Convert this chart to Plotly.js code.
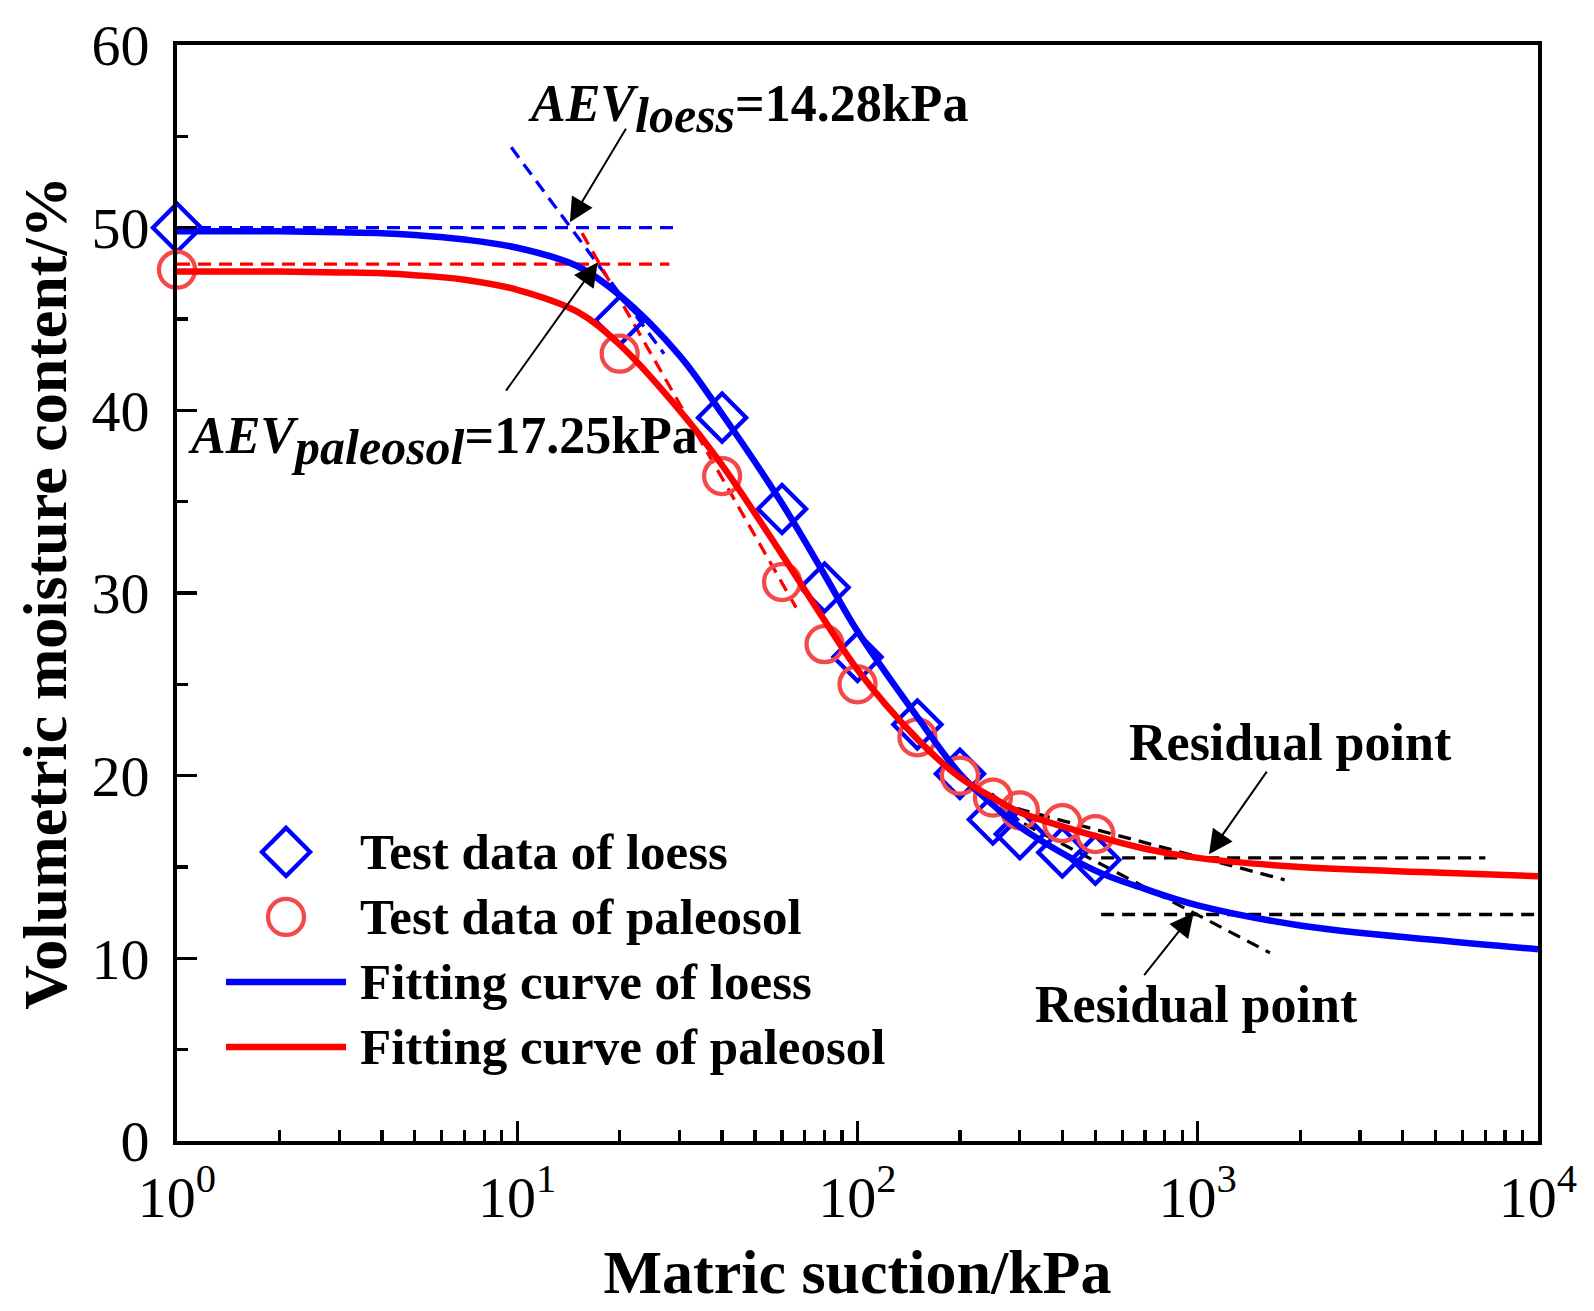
<!DOCTYPE html>
<html>
<head>
<meta charset="utf-8">
<script src="https://cdn.plot.ly/plotly-3.0.1.min.js"></script>
<style>body{margin:0;background:#fff}</style>
</head>
<body>
<div id="swcc" style="width:1594px;height:1311px"></div>
<script>
// test data (suction in kPa, moisture in %)
var suction = [1, 20, 40, 60, 80, 100, 150, 200, 250, 300, 400, 500];
var loessTest = [50.0, 44.9, 39.6, 34.6, 30.3, 26.5, 22.8, 20.1, 17.6, 16.8, 15.8, 15.4];
var paleoTest = [47.7, 43.1, 36.4, 30.6, 27.2, 25.0, 22.1, 20.0, 18.8, 18.1, 17.4, 16.8];

// fitting curves, read at these suctions
var fitSuction = [1, 2, 3, 4, 5, 7, 10, 15, 20, 30, 40, 60, 80, 100, 150, 200, 250, 300, 500, 700, 1000, 2000, 5000, 10000];
var loessFit = [49.8, 49.8, 49.75, 49.7, 49.6, 49.35, 48.9, 47.9, 46.3, 43.0, 39.8, 34.9, 31.0, 27.9, 23.2, 20.1, 18.4, 17.2, 14.8, 13.8, 12.9, 11.8, 11.0, 10.5];
var paleoFit = [47.6, 47.6, 47.55, 47.5, 47.4, 47.15, 46.6, 45.4, 43.6, 40.0, 37.0, 32.1, 28.5, 25.8, 22.0, 19.9, 18.8, 18.0, 16.7, 16.0, 15.5, 15.0, 14.7, 14.5];

// construction lines (AEV and residual point)
var aevLoessX = [1, 30],    aevLoessY = [50, 50];
var aevPaleoX = [1, 28],    aevPaleoY = [48, 48];
var tanLoessX = [9.6, 27],  tanLoessY = [54.4, 43.1];
var tanPaleoX = [15.5, 66], tanPaleoY = [49.7, 29.2];
var resPaleoHX = [520, 7000],  resPaleoHY = [15.5, 15.5];
var resPaleoSX = [294, 1800],  resPaleoSY = [18.2, 14.3];
var resLoessHX = [520, 10000], resLoessHY = [12.4, 12.4];
var resLoessSX = [272, 1630],  resLoessSY = [17.9, 10.3];

var legendNames = ['Test data of loess', 'Test data of paleosol', 'Fitting curve of loess', 'Fitting curve of paleosol'];

var xTicks = [1, 10, 100, 1000, 10000];
var xTickText = ['10<sup>0</sup>', '10<sup>1</sup>', '10<sup>2</sup>', '10<sup>3</sup>', '10<sup>4</sup>'];
var xMinor = [];
[1, 10, 100, 1000].forEach(function (d) {
  for (var k = 2; k <= 9; k++) xMinor.push(k * d);
});

var serif = 'Liberation Serif, Times New Roman, serif';
var blue = '#0000ff', red = '#ff0000', pink = '#f54848';
var diamondMk = { symbol: 'diamond-open', size: 37, color: blue, line: { width: 4.3, color: blue } };
var circleMk = { symbol: 'circle-open', size: 36, color: pink, line: { width: 4.3, color: pink } };

function dashed(x, y, color) {
  return { x: x, y: y, mode: 'lines', type: 'scatter', showlegend: false, hoverinfo: 'skip',
    line: { color: color, width: 3.3, dash: '13px,8px' } };
}

var data = [
  dashed(aevLoessX, aevLoessY, blue),
  dashed(aevPaleoX, aevPaleoY, red),
  dashed(tanLoessX, tanLoessY, blue),
  dashed(tanPaleoX, tanPaleoY, red),
  dashed(resPaleoHX, resPaleoHY, '#000000'),
  dashed(resPaleoSX, resPaleoSY, '#000000'),
  dashed(resLoessHX, resLoessHY, '#000000'),
  dashed(resLoessSX, resLoessSY, '#000000'),
  { x: suction, y: loessTest, type: 'scatter', mode: 'markers', name: legendNames[0],
    cliponaxis: false, marker: diamondMk },
  { x: suction, y: paleoTest, type: 'scatter', mode: 'markers', name: legendNames[1],
    cliponaxis: false, marker: circleMk },
  { x: fitSuction, y: loessFit, type: 'scatter', mode: 'lines', name: legendNames[2],
    line: { color: blue, width: 6.5, shape: 'spline' } },
  { x: fitSuction, y: paleoFit, type: 'scatter', mode: 'lines', name: legendNames[3],
    line: { color: red, width: 6.5, shape: 'spline' } },
  // legend samples, on their own small axes (row 0 at the top)
  { x: [0.5], y: [0], xaxis: 'x2', yaxis: 'y2', type: 'scatter', mode: 'markers', showlegend: false,
    cliponaxis: false, marker: diamondMk },
  { x: [0.5], y: [1], xaxis: 'x2', yaxis: 'y2', type: 'scatter', mode: 'markers', showlegend: false,
    cliponaxis: false, marker: circleMk },
  { x: [0, 1], y: [2, 2], xaxis: 'x2', yaxis: 'y2', type: 'scatter', mode: 'lines', showlegend: false,
    line: { color: blue, width: 6.5 } },
  { x: [0, 1], y: [3, 3], xaxis: 'x2', yaxis: 'y2', type: 'scatter', mode: 'lines', showlegend: false,
    line: { color: red, width: 6.5 } }
];

var txt = { family: serif, size: 52, color: 'black', weight: 'bold' };
var legTxt = { family: serif, size: 51, color: 'black', weight: 'bold' };

function arrow(x, y, ax, ay) {
  return { x: x, y: y, ax: ax, ay: ay, xref: 'x', yref: 'y', axref: 'x', ayref: 'y', text: '',
    showarrow: true, arrowhead: 2, arrowsize: 2.4, arrowwidth: 2, arrowcolor: 'black' };
}

var annotations = [
  { x: 1.027, y: 56.5, xref: 'x', yref: 'y', xanchor: 'left', yanchor: 'middle', showarrow: false, font: txt,
    text: '<i>AEV<sub><span style="font-size:50px">loess</span></sub></i>=14.28kPa' },
  { x: 0.027, y: 38.3, xref: 'x', yref: 'y', xanchor: 'left', yanchor: 'middle', showarrow: false, font: txt,
    text: '<i>AEV<sub><span style="font-size:50px">paleosol</span></sub></i>=17.25kPa' },
  { x: 3.272, y: 21.8, xref: 'x', yref: 'y', xanchor: 'center', yanchor: 'middle', showarrow: false, font: txt,
    text: 'Residual point' },
  { x: 2.997, y: 7.5, xref: 'x', yref: 'y', xanchor: 'center', yanchor: 'middle', showarrow: false, font: txt,
    text: 'Residual point' },
  arrow(Math.log10(14.28), 50.3, 1.322, 55.5),
  arrow(Math.log10(17.25), 48.1, 0.964, 41.0),
  arrow(3.033, 15.7, 3.206, 20.3),
  arrow(2.988, 12.5, 2.839, 9.0)
];
legendNames.forEach(function (name, i) {
  annotations.push({ x: 1.1, y: i, xref: 'x2', yref: 'y2', xanchor: 'left', yanchor: 'middle',
    showarrow: false, font: legTxt, text: name });
});

var hiddenAxis = { showline: false, showgrid: false, zeroline: false, showticklabels: false,
  ticks: '', fixedrange: true };

var layout = {
  width: 1594,
  height: 1311,
  margin: { l: 177, r: 56, t: 45, b: 170 },
  paper_bgcolor: 'white',
  plot_bgcolor: 'rgba(0,0,0,0)',
  font: { family: serif, color: 'black' },
  showlegend: false,
  xaxis: {
    type: 'log', range: [0, 4], showgrid: false, zeroline: false,
    showline: true, linecolor: 'black', linewidth: 4, mirror: true,
    ticks: 'inside', ticklen: 20, tickwidth: 3.3, tickcolor: 'black',
    tickmode: 'array', tickvals: xTicks, ticktext: xTickText,
    minor: { tickmode: 'array', tickvals: xMinor, ticks: 'inside', ticklen: 11, tickwidth: 3.3, tickcolor: 'black' },
    tickfont: { family: serif, size: 58, color: 'black' },
    ticklabelstandoff: 2,
    title: { text: 'Matric suction/kPa', font: { family: serif, size: 62, color: 'black', weight: 'bold' }, standoff: 22 }
  },
  yaxis: {
    range: [0, 60], showgrid: false, zeroline: false,
    showline: true, linecolor: 'black', linewidth: 4, mirror: true,
    ticks: 'inside', ticklen: 20, tickwidth: 3.3, tickcolor: 'black',
    tickmode: 'linear', tick0: 0, dtick: 10,
    minor: { dtick: 5, ticks: 'inside', ticklen: 11, tickwidth: 3.3, tickcolor: 'black' },
    tickfont: { family: serif, size: 58, color: 'black' },
    ticklabelstandoff: 12,
    title: { text: 'Volumetric moisture content/%', font: { family: serif, size: 62, color: 'black', weight: 'bold' }, standoff: 6 }
  },
  xaxis2: Object.assign({ domain: [0.0272, 0.1330], range: [-0.1, 1.1], anchor: 'y2' }, hiddenAxis),
  yaxis2: Object.assign({ domain: [0.0561, 0.2934], range: [3.5, -0.5], anchor: 'x2' }, hiddenAxis),
  annotations: annotations
};

Plotly.newPlot('swcc', data, layout, { displayModeBar: false, staticPlot: true });
</script>
</body>
</html>
